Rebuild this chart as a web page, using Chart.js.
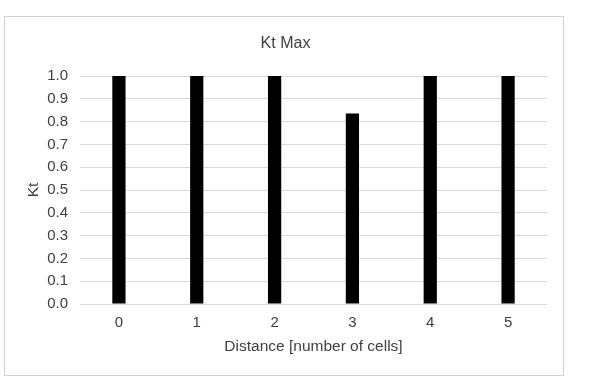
<!DOCTYPE html>
<html>
<head>
<meta charset="utf-8">
<script src="https://cdn.jsdelivr.net/npm/chart.js@4"></script>
<style>
  html, body { margin: 0; padding: 0; background: #fff; }
  #wrap { position: relative; width: 591px; height: 380px; }
</style>
</head>
<body>
<div id="wrap"><canvas id="chart" width="591" height="380"></canvas></div>
<script>
const categories = ['0', '1', '2', '3', '4', '5'];
const ktValues = [1.0, 1.0, 1.0, 0.835, 1.0, 1.0];
const yTicks = [0, 0.1, 0.2, 0.3, 0.4, 0.5, 0.6, 0.7, 0.8, 0.9, 1.0];

const textColor = '#404040';
const gridColor = '#d9d9d9';
const fontFamily = '"Liberation Sans", Arial, sans-serif';

// outer frame like the spreadsheet chart border
const framePlugin = {
    id: 'frame',
    beforeDraw(chart) {
        const ctx = chart.ctx;
        ctx.save();
        ctx.fillStyle = '#fff';
        ctx.fillRect(0, 0, chart.width, chart.height);
        ctx.strokeStyle = '#d0d0d0';
        ctx.lineWidth = 1;
        ctx.strokeRect(4.5, 16.5, 559, 359);
        ctx.restore();
    }
};

const ctx = document.getElementById('chart').getContext('2d');
new Chart(ctx, {
    type: 'bar',
    data: {
        labels: categories,
        datasets: [{
            label: 'Kt Max',
            data: ktValues,
            backgroundColor: '#000',
            borderWidth: 0,
            categoryPercentage: 1,
            barPercentage: 0.17
        }]
    },
    options: {
        responsive: false,
        animation: false,
        devicePixelRatio: 1,
        layout: {
            padding: { left: 24, right: 44, top: 34, bottom: 24 }
        },
        plugins: {
            legend: { display: false },
            tooltip: { enabled: false },
            title: {
                display: true,
                text: 'Kt Max',
                color: textColor,
                font: { family: fontFamily, size: 16, weight: 'normal' },
                padding: { top: 0, bottom: 22.8 }
            }
        },
        scales: {
            x: {
                grid: { display: false, drawTicks: false },
                border: { display: false },
                ticks: {
                    color: textColor,
                    padding: 10,
                    font: { family: fontFamily, size: 15 }
                },
                title: {
                    display: true,
                    text: 'Distance [number of cells]',
                    color: textColor,
                    padding: 0,
                    font: { family: fontFamily, size: 15.5 }
                },
                afterFit(scale) { scale.height = 52; }
            },
            y: {
                min: 0,
                max: 1,
                afterBuildTicks(scale) {
                    scale.ticks = yTicks.map(v => ({ value: v }));
                },
                grid: { color: gridColor, drawTicks: false },
                border: { display: false },
                ticks: {
                    color: textColor,
                    padding: 12,
                    font: { family: fontFamily, size: 15 },
                    callback: v => Number(v).toFixed(1)
                },
                title: {
                    display: true,
                    text: 'Kt',
                    color: textColor,
                    padding: 0,
                    font: { family: fontFamily, size: 15.5 }
                },
                afterFit(scale) { scale.width = 56; }
            }
        }
    },
    plugins: [framePlugin]
});
</script>
</body>
</html>
